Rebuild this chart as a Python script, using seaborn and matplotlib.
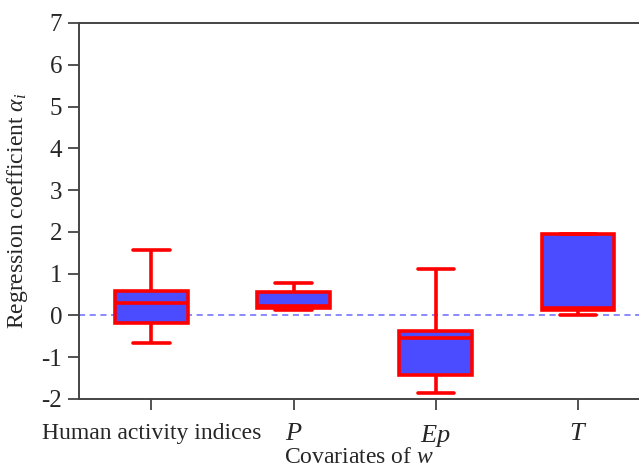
import numpy as np
import pandas as pd
import seaborn as sns
import matplotlib
matplotlib.use("Agg")
import matplotlib.pyplot as plt

# Five-number summaries (min, Q1, median, Q3, max)
categories = ["Human activity indices", "P", "Ep", "T"]
whisker_low = [-0.65, 0.12, -1.86, 0.00]
q1 = [-0.17, 0.18, -1.43, 0.13]
median = [0.29, 0.22, -0.53, 0.17]
q3 = [0.59, 0.55, -0.37, 1.96]
whisker_high = [1.56, 0.78, 1.10, 1.96]
tick_labels = ["Human activity indices", "$P$", "$Ep$", "$T$"]

rows = []
for c, a, b, m, d, e in zip(categories, whisker_low, q1, median, q3, whisker_high):
    for v in (a, b, m, d, e):
        rows.append({"cat": c, "val": v})
df = pd.DataFrame(rows)

sns.set_style("ticks")
plt.rcParams["font.family"] = ["Liberation Serif", "DejaVu Serif"]
plt.rcParams["mathtext.fontset"] = "custom"
plt.rcParams["mathtext.it"] = "Liberation Serif:italic"
plt.rcParams["mathtext.rm"] = "Liberation Serif"
plt.rcParams["axes.unicode_minus"] = False

fig = plt.figure(figsize=(6.39, 4.72), dpi=100)
ax = fig.add_axes([0.1236, 0.1547, 0.8764, 0.7966])

ax.axhline(0, ls=(0, (4, 3)), color="#6a6aff", lw=1.1, zorder=1)

sns.boxplot(data=df, x="cat", y="val", order=categories, ax=ax,
            whis=(0, 100), width=0.51, linewidth=2.6, linecolor="#ff0000",
            color="#4b4bff", saturation=1, showfliers=False,
            boxprops=dict(facecolor="#4b4bff", edgecolor="#ff0000", zorder=2),
            medianprops=dict(color="#ff0000"),
            whiskerprops=dict(color="#ff0000"),
            capprops=dict(color="#ff0000"))

ax.set_ylim(-2, 7)
ax.set_yticks(range(-2, 8))
ax.set_xlim(-0.51, 3.43)
ax.set_xticks(range(4))
ax.set_xticklabels(tick_labels, fontsize=17)
for lab in ax.get_xticklabels()[1:]:
    lab.set_fontsize(19)
ax.tick_params(axis="y", labelsize=18, length=8, width=1.3, color="#444444", pad=4)
ax.tick_params(axis="x", length=8, width=1.3, color="#444444", pad=9)

for side in ("left", "top", "bottom"):
    ax.spines[side].set_color("#444444")
    ax.spines[side].set_linewidth(1.4)
ax.spines["right"].set_visible(False)
ax.spines["top"].set_visible(True)

ax.set_xlabel("Covariates of $w$", fontsize=17, labelpad=-1)
ax.set_ylabel(r"Regression coefficient $\alpha_i$", fontsize=17, labelpad=8)

fig.savefig("out.png", dpi=100)
